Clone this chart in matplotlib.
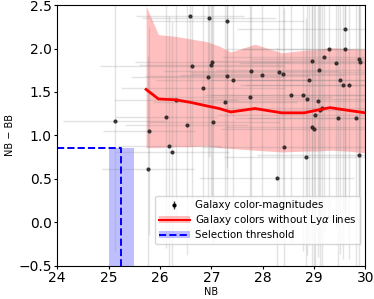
import matplotlib
matplotlib.use("Agg")
import matplotlib.pyplot as plt
from matplotlib.lines import Line2D
from matplotlib.patches import Patch

# Galaxy color-magnitude points
gal_nb = [25.12, 25.77, 25.79, 26.12, 26.18, 26.24, 26.31, 26.52, 26.58, 26.63,
          26.84, 26.93, 26.96, 27.00, 27.01, 27.04, 27.27, 27.31, 27.31, 27.43,
          27.75, 27.77, 27.99, 28.27, 28.31, 28.40, 28.42, 28.56, 28.79, 28.84,
          28.86, 28.90, 28.96, 28.97, 28.99, 29.02, 29.08, 29.10, 29.12, 29.16,
          29.20, 29.29, 29.43, 29.46, 29.50, 29.56, 29.60, 29.60, 29.68, 29.81,
          29.87, 29.88, 29.90]
gal_col = [1.17, 0.61, 1.05, 1.21, 0.88, 0.81, 1.41, 1.12, 2.38, 1.80,
           1.55, 1.67, 2.35, 1.81, 1.85, 1.16, 1.38, 2.32, 1.68, 1.64,
           1.44, 1.74, 1.70, 0.51, 1.73, 1.71, 0.87, 1.46, 1.47, 0.75,
           1.42, 1.64, 1.10, 1.86, 1.07, 1.24, 1.40, 1.75, 1.29, 1.32,
           1.90, 1.99, 1.83, 1.20, 1.64, 1.58, 2.22, 1.99, 1.58, 1.20,
           1.88, 0.77, 1.84]
gal_nb_err = [1.0, 0.9, 0.9, 1.0, 1.0, 1.1, 1.2, 1.2, 1.05, 1.8,
              1.6, 1.5, 1.3, 1.4, 1.5, 1.3, 1.4, 1.5, 1.6, 1.5,
              1.6, 1.7, 1.6, 1.5, 1.7, 1.8, 1.6, 1.7, 1.8, 1.6,
              1.8, 1.9, 1.7, 1.9, 1.8, 1.9, 1.8, 2.0, 1.9, 1.9,
              2.0, 2.0, 1.9, 2.0, 2.0, 2.0, 2.1, 2.0, 2.0, 2.1,
              2.1, 2.0, 2.1]
gal_col_err = [1.5, 1.3, 1.2, 1.5, 1.5, 1.5, 1.4, 1.5, 1.5, 1.6,
               1.3, 1.4, 1.6, 1.5, 1.6, 1.4, 1.5, 1.7, 1.6, 1.5,
               1.6, 1.7, 1.6, 1.5, 1.8, 1.8, 1.6, 1.7, 1.8, 1.6,
               1.8, 1.9, 1.7, 1.9, 1.8, 1.9, 1.8, 2.0, 1.9, 1.9,
               2.0, 2.0, 1.9, 2.0, 2.0, 2.0, 2.1, 2.0, 2.0, 2.1,
               2.1, 2.0, 2.1]

# Galaxy colors without Ly-alpha lines (mean and spread)
mod_nb = [25.73, 25.97, 26.31, 26.60, 26.91, 27.15, 27.38, 27.85, 28.37, 28.81,
          29.05, 29.31, 29.65, 30.00]
mod_mean = [1.53, 1.42, 1.41, 1.38, 1.34, 1.31, 1.27, 1.31, 1.26, 1.26,
            1.29, 1.32, 1.29, 1.26]
mod_upper = [2.49, 2.16, 2.14, 2.11, 2.08, 2.03, 1.96, 2.05, 1.95, 1.98,
             1.99, 2.01, 2.00, 1.99]
mod_lower = [0.86, 0.86, 0.87, 0.87, 0.88, 0.86, 0.85, 0.83, 0.81, 0.82,
             0.82, 0.83, 0.82, 0.80]

# Selection threshold
thr_color = 0.85
thr_nb = 25.25
thr_nb_band = [25.0, 25.5]

fig = plt.figure(figsize=(3.74, 2.99), dpi=100)
ax = fig.add_axes([0.153, 0.111, 0.824, 0.872])

ax.fill_between(mod_nb, mod_lower, mod_upper, color='red', alpha=0.25, lw=0)
ax.fill_between(thr_nb_band, [-0.5, -0.5], [thr_color, thr_color],
                color='blue', alpha=0.25, lw=0)

ax.errorbar(gal_nb, gal_col, xerr=gal_nb_err, yerr=gal_col_err, fmt='none',
            ecolor='gray', alpha=0.22, elinewidth=1.0)
ax.plot(gal_nb, gal_col, 'o', color='#2a2222', ms=2.0, alpha=0.85)

ax.plot(mod_nb, mod_mean, color='red', lw=2)
ax.plot([24, thr_nb, thr_nb], [thr_color, thr_color, -0.5], color='blue',
        ls='--', lw=1.4)

ax.set_xlim(24, 30)
ax.set_ylim(-0.5, 2.5)
ax.set_xticks([24, 25, 26, 27, 28, 29, 30])
ax.set_yticks([-0.5, 0.0, 0.5, 1.0, 1.5, 2.0, 2.5])
ax.tick_params(labelsize=10, length=2.5, pad=1.5)
ax.set_xlabel('NB', fontsize=7, labelpad=1)
ax.set_ylabel('NB − BB', fontsize=7, labelpad=2)

h1 = (Line2D([], [], marker='|', color='0.25', ms=6, ls='none'),
      Line2D([], [], marker='o', color='k', ms=2, ls='none'))
h2 = (Patch(color='red', alpha=0.25, lw=0), Line2D([], [], color='red', lw=1.5))
h3 = (Patch(color='blue', alpha=0.25, lw=0), Line2D([], [], color='blue', ls='--', lw=1.4))
ax.legend([h1, h2, h3],
          ['Galaxy color-magnitudes', r'Galaxy colors without Ly$\alpha$ lines',
           'Selection threshold'],
          loc='lower right', bbox_to_anchor=(0.983, 0.082), borderaxespad=0,
          fontsize=7.4, labelspacing=0.3, handlelength=3.0, handletextpad=0.45,
          borderpad=0.4)

fig.savefig('out.png', dpi=100)
